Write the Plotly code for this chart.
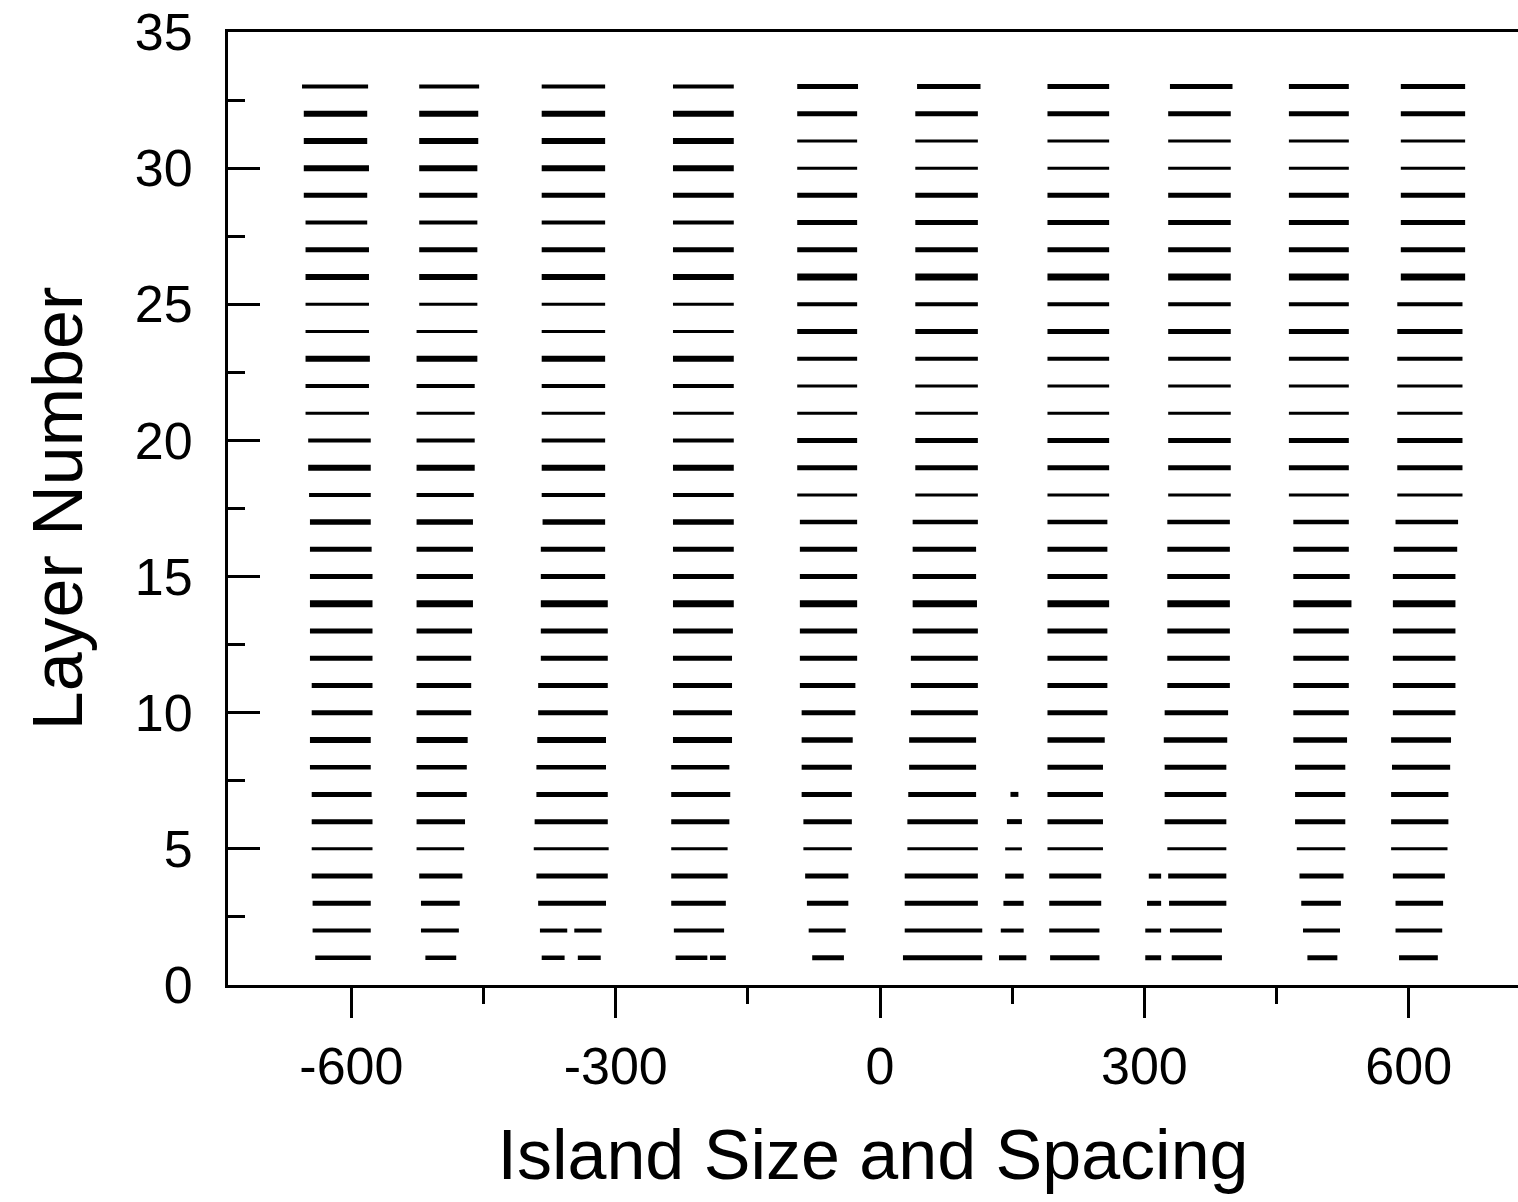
import plotly.graph_objects as go

# ---------------- data ----------------
LAYERS = list(range(1, 34))

# island columns: left / right edge (x units) for layers 1..33
COL1_LEFT = [-641, -644, -644, -645, -645, -645, -645, -647, -647, -645, -645, -647, -647, -647, -647, -647, -647,
             -648, -649, -649, -652, -652, -652, -652, -652, -652, -652, -652, -654, -654, -654, -654, -656]
COL1_RIGHT = [-578, -578, -578, -576, -576, -576, -577, -578, -578, -576, -576, -576, -576, -576, -576, -577, -578,
              -578, -578, -578, -580, -580, -579, -580, -580, -580, -580, -582, -582, -580, -582, -582, -581]

COL2_LEFT = [-516, -521, -521, -523, -526, -526, -526, -526, -526, -526, -526, -526, -526, -526, -526, -526, -526,
             -526, -526, -526, -526, -526, -526, -526, -523, -523, -523, -523, -523, -523, -523, -523, -523]
COL2_RIGHT = [-481, -478, -477, -474, -472, -471, -469, -469, -468, -464, -464, -464, -463, -462, -462, -462, -462,
              -461, -460, -460, -460, -460, -457, -457, -457, -457, -457, -457, -457, -457, -456, -456, -455]

COL3_LEFT = [-384, -386, -388, -390, -393, -392, -390, -390, -389, -388, -388, -385, -385, -385, -385, -385, -383,
             -384, -384, -384, -384, -384, -384, -384, -384, -384, -384, -384, -384, -384, -384, -384, -384]
COL3_RIGHT = [-317, -316, -311, -309, -308, -309, -309, -311, -311, -309, -309, -309, -309, -309, -312, -312, -312,
              -312, -312, -312, -312, -312, -312, -312, -312, -312, -312, -312, -312, -312, -312, -312, -312]

COL4_LEFT = [-232, -234, -237, -237, -237, -237, -237, -237, -235, -235, -235, -235, -235, -235, -235, -235, -235,
             -235, -235, -235, -235, -235, -235, -235, -235, -235, -235, -235, -235, -235, -235, -235, -235]
COL4_RIGHT = [-175, -177, -175, -173, -173, -171, -170, -171, -168, -168, -168, -168, -167, -166, -166, -166, -166,
              -166, -166, -166, -166, -166, -166, -166, -166, -166, -166, -166, -166, -166, -166, -166, -166]

COL5_LEFT = [-77, -81, -83, -85, -87, -87, -89, -89, -89, -89, -91, -91, -91, -91, -91, -91, -91,
             -94, -94, -94, -94, -94, -94, -94, -94, -94, -94, -94, -94, -94, -94, -94, -94]
COL5_RIGHT = [-41, -39, -36, -36, -32, -32, -32, -32, -31, -28, -28, -26, -26, -26, -26, -26, -26,
              -26, -26, -26, -26, -26, -26, -26, -26, -26, -26, -26, -26, -26, -26, -26, -25]

COL6_LEFT = [26, 28, 28, 28, 31, 31, 32, 33, 33, 35, 35, 35, 37, 37, 37, 37, 37,
             40, 40, 40, 40, 40, 40, 40, 40, 40, 40, 40, 40, 40, 40, 40, 42]
COL6_RIGHT = [116, 116, 111, 111, 111, 111, 109, 109, 109, 111, 111, 111, 111, 110, 109, 109, 111,
              111, 111, 111, 111, 111, 111, 111, 111, 111, 111, 111, 111, 111, 111, 111, 114]

COL7_LEFT = [193, 192, 192, 192, 190, 190, 190, 190, 190, 190, 190, 190, 190, 190, 190, 190, 190,
             190, 190, 190, 190, 190, 190, 190, 190, 190, 190, 190, 190, 190, 190, 190, 190]
COL7_RIGHT = [249, 249, 251, 251, 253, 253, 253, 253, 255, 258, 258, 258, 258, 260, 258, 258, 258,
              260, 260, 260, 260, 260, 260, 260, 260, 260, 260, 260, 260, 260, 260, 260, 260]

COL8_LEFT = [331, 329, 328, 327, 326, 323, 323, 323, 322, 323, 326, 326, 326, 326, 326, 326, 326,
             327, 327, 327, 327, 327, 327, 327, 327, 327, 327, 327, 327, 327, 327, 327, 329]
COL8_RIGHT = [388, 388, 393, 393, 393, 393, 393, 393, 394, 395, 397, 397, 397, 397, 397, 397, 397,
              398, 398, 398, 398, 398, 398, 398, 398, 398, 398, 398, 398, 398, 398, 398, 400]

COL9_LEFT = [485, 480, 478, 476, 473, 471, 471, 471, 469, 469, 469, 469, 469, 469, 469, 469, 469,
             464, 464, 464, 464, 464, 464, 464, 464, 464, 464, 464, 464, 464, 464, 464, 464]
COL9_RIGHT = [519, 522, 523, 526, 528, 528, 528, 528, 530, 532, 532, 532, 532, 535, 533, 532, 532,
              532, 532, 532, 532, 532, 532, 532, 532, 532, 532, 532, 532, 532, 532, 532, 532]

COL10_LEFT = [589, 585, 585, 582, 580, 580, 580, 581, 580, 582, 582, 582, 582, 582, 582, 583, 585,
              587, 587, 587, 587, 587, 587, 587, 587, 591, 591, 591, 591, 591, 591, 591, 591]
COL10_RIGHT = [633, 638, 639, 641, 644, 645, 645, 647, 648, 653, 653, 653, 653, 653, 653, 655, 656,
               661, 661, 661, 661, 661, 661, 661, 661, 664, 664, 664, 664, 664, 664, 664, 664]

# small islands that exist only in the lowest layers
SMALL_A_LAYERS = [1, 2, 3, 4, 5, 6, 7]
SMALL_A_LEFT = [135, 137, 140, 142, 142, 144, 148]
SMALL_A_RIGHT = [166, 163, 163, 163, 161, 161, 157]

SMALL_B_LAYERS = [1, 2, 3, 4]
SMALL_B_LEFT = [301, 301, 303, 305]
SMALL_B_RIGHT = [319, 319, 319, 319]

# gaps splitting an island: (column index 1-based, layer, gap start, gap end)
GAP_COLUMN = [3, 3, 4]
GAP_LAYER = [1, 2, 1]
GAP_START = [-358, -355, -196]
GAP_END = [-343, -347, -193]

X_TICKS = [-600, -300, 0, 300, 600]
Y_TICKS = [0, 5, 10, 15, 20, 25, 30, 35]

# ---------------- styling (line thickness per layer) ----------------
WIDTH_LEFT_GROUP = [4.5, 4, 5, 5, 3, 5, 5, 4.5, 6, 5, 5, 5, 5, 7, 5, 5, 5.5,
                    4, 6, 4, 3, 4, 6, 3, 3, 6, 5, 4, 5, 6, 6, 6, 4]
WIDTH_RIGHT_GROUP = [5, 4, 5, 5, 3, 5, 5, 5, 5.5, 5, 5, 5, 5, 7, 5, 5, 4.5,
                     3, 5, 5, 3, 3, 4, 5, 4, 7, 5, 5, 5, 3, 3, 5, 5]

columns = [
    (COL1_LEFT, COL1_RIGHT), (COL2_LEFT, COL2_RIGHT), (COL3_LEFT, COL3_RIGHT),
    (COL4_LEFT, COL4_RIGHT), (COL5_LEFT, COL5_RIGHT), (COL6_LEFT, COL6_RIGHT),
    (COL7_LEFT, COL7_RIGHT), (COL8_LEFT, COL8_RIGHT), (COL9_LEFT, COL9_RIGHT),
    (COL10_LEFT, COL10_RIGHT),
]

segments = {}  # width -> (xs, ys)


def add_seg(w, x0, x1, y):
    xs, ys = segments.setdefault(w, ([], []))
    xs.extend([x0, x1, None])
    ys.extend([y, y, None])


gaps = {(c, l): (s, e) for c, l, s, e in zip(GAP_COLUMN, GAP_LAYER, GAP_START, GAP_END)}

for ci, (lefts, rights) in enumerate(columns, start=1):
    widths = WIDTH_LEFT_GROUP if ci <= 4 else WIDTH_RIGHT_GROUP
    for li, layer in enumerate(LAYERS):
        w = widths[li]
        x0, x1 = lefts[li], rights[li]
        if (ci, layer) in gaps:
            gs, ge = gaps[(ci, layer)]
            add_seg(w, x0, gs, layer)
            add_seg(w, ge, x1, layer)
        else:
            add_seg(w, x0, x1, layer)

for layers, lefts, rights in [(SMALL_A_LAYERS, SMALL_A_LEFT, SMALL_A_RIGHT),
                              (SMALL_B_LAYERS, SMALL_B_LEFT, SMALL_B_RIGHT)]:
    for layer, x0, x1 in zip(layers, lefts, rights):
        add_seg(WIDTH_RIGHT_GROUP[layer - 1], x0, x1, layer)

fig = go.Figure()
for w, (xs, ys) in sorted(segments.items()):
    fig.add_trace(go.Scatter(x=xs, y=ys, mode="lines",
                             line=dict(color="black", width=w),
                             showlegend=False, hoverinfo="skip"))

FONT = "Arial, Liberation Sans, Helvetica, sans-serif"

fig.update_layout(
    width=1518, height=1202,
    margin=dict(l=228, r=0, t=32, b=217),
    paper_bgcolor="white", plot_bgcolor="white",
    font=dict(family=FONT, color="black", size=52),
    showlegend=False,
)

fig.update_xaxes(
    range=[-740, 724],
    tickvals=X_TICKS,
    ticktext=[str(v) for v in X_TICKS],
    showgrid=False, zeroline=False,
    showline=True, linecolor="black", linewidth=3, mirror=True,
    ticks="outside", ticklen=30, tickwidth=3, tickcolor="black",
    minor=dict(dtick=150, tick0=-450, ticks="outside", ticklen=16, tickwidth=3, tickcolor="black", showgrid=False),
    tickfont=dict(size=52, family=FONT),
    ticklabelstandoff=4,
    title=dict(text="Island Size and Spacing", font=dict(size=70, family=FONT), standoff=36),
)

fig.update_yaxes(
    range=[0, 35],
    tickvals=Y_TICKS,
    ticktext=[str(v) for v in Y_TICKS],
    showgrid=False, zeroline=False,
    showline=True, linecolor="black", linewidth=3, mirror=False,
    ticks="inside", ticklen=32, tickwidth=3, tickcolor="black",
    minor=dict(dtick=2.5, tick0=0, ticks="inside", ticklen=17, tickwidth=3, tickcolor="black", showgrid=False),
    tickfont=dict(size=52, family=FONT),
    ticklabelstandoff=22,
    title=dict(text="Layer Number", font=dict(size=70, family=FONT), standoff=30),
)

fig.write_html("out.html")
